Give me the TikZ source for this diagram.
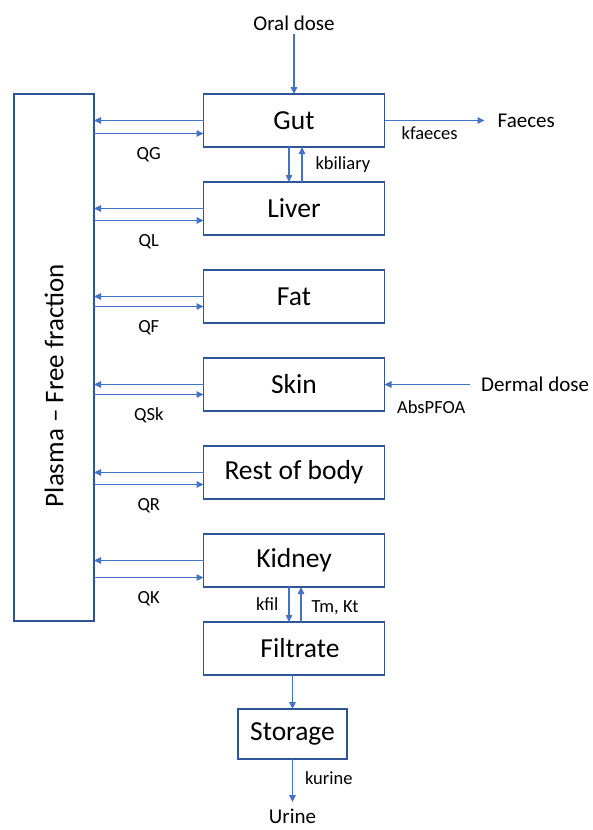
\documentclass[tikz,border=0pt]{standalone}
\usepackage{fontspec}
\setmainfont{Carlito}
\usetikzlibrary{positioning,arrows.meta}
\definecolor{boxblue}{HTML}{2F5597}
\definecolor{arrblue}{HTML}{4472C4}

\begin{document}
\begin{tikzpicture}[x=1pt,y=1pt]
\pgfmathsetmacro{\dd}{35}
\tikzstyle{organ}=[draw=boxblue, line width=1.8pt, outer sep=0pt, minimum width=181pt, minimum height=53pt, inner sep=0pt, font=\fontsize{27.5}{30}\selectfont]
\tikzstyle{ext}=[inner sep=3pt, font=\fontsize{21}{25}\selectfont]
\tikzstyle{lbl}=[inner sep=3pt, font=\fontsize{18.5}{22}\selectfont]
\tikzstyle{arr}=[draw=arrblue, line width=1.1pt, -{Triangle[length=7pt,width=6.5pt]}]

\useasboundingbox (0,0) rectangle (592,-830);

\node[organ] (G) at (294,-120.5) {Gut};
\node[organ, below = \dd pt of G] (L) {Liver};
\node[organ, below = \dd pt of L] (Fa) {Fat};
\node[organ, below = \dd pt of Fa] (S) {Skin};
\node[organ, below = \dd pt of S] (R) {Rest of body};
\node[organ, below = \dd pt of R] (K) {Kidney};
\node[organ, below = \dd pt of K] (Fi) {\hspace{12pt}Filtrate};
\node[organ, below = 34pt of Fi, xshift=-1.5pt, minimum width=109pt, minimum height=50pt] (St) {Storage};
\node[organ, minimum width=80pt, minimum height=527pt] (P) at (54,-357.5) {};
\node[rotate=90, font=\fontsize{27}{30}\selectfont] (Pt) at ([yshift=-28pt]P.center) {Plasma – Free fraction};

\node[ext, above = 60.5pt of G] (O) {Oral dose};
\node[ext, right = 110pt of G] (Fc) {Faeces};
\node[ext, right = 93.5pt of S] (D) {Dermal dose};
\node[ext, inner sep=0pt, below = 50pt of St] (U) {Urine};

% exchange with plasma
\foreach \i/\j/\k in {G/QG/13, L/QL/12, Fa/QF/10, S/QSk/10, R/QR/12, K/QK/17}{
\draw[arr] (\i.west) -- (\i.west -| P.east);
\draw[arr] ([yshift=-\k pt]\i.west -| P.east) -- node[lbl, below=10pt] (q\i) {\j} ([yshift=-\k pt]\i.west);
}

\draw[arr] (O) -- (G);
\draw[arr, shorten >=10pt] (G) -- node[lbl, below=3pt, pos=0.41] (kf) {kfaeces} (Fc);
\draw[arr] ([xshift=-5pt]G.south) -- ([xshift=-5pt]L.north);
\draw[arr] ([xshift=8pt]L.north) -- node[lbl, right=10pt] (kb) {kbiliary} ([xshift=8pt]G.south);
\draw[arr, shorten <=8pt] (D) -- node[lbl, below=13pt] (ab) {AbsPFOA} (S);
\draw[arr] ([xshift=-5pt]K.south) -- node[lbl, left=7pt] (kfl) {kfil} ([xshift=-5pt]Fi.north);
\draw[arr] ([xshift=7pt]Fi.north) -- node[lbl, right=7pt, yshift=-3pt] (tk) {Tm, Kt} ([xshift=7pt]K.south);
\draw[arr] (Fi.south -| St) -- (St);
\draw[arr, shorten >=7pt] (St) -- node[lbl, right=9pt, pos=0.38] (ku) {kurine} (U);
\end{tikzpicture}
\end{document}
